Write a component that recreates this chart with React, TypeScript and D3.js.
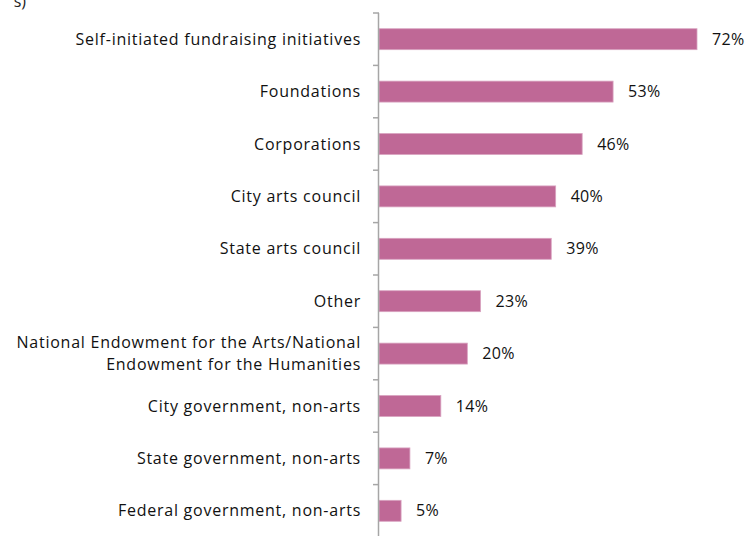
import React from "react";
import * as d3 from "d3";

const categories = [
  "Self-initiated fundraising initiatives",
  "Foundations",
  "Corporations",
  "City arts council",
  "State arts council",
  "Other",
  "National Endowment for the Arts/National|Endowment for the Humanities",
  "City government, non-arts",
  "State government, non-arts",
  "Federal government, non-arts",
];
const values = [72, 53, 46, 40, 39, 23, 20, 14, 7, 5];

const W = 748;
const H = 536;
const FONT = "'Open Sans', Lato, sans-serif";
const FS = 16;
const LS = 0.75;

export default function App() {
  const axisX = 379;
  const x = d3.scaleLinear().domain([0, 72]).range([axisX, 697]);
  const y = d3
    .scaleBand<string>()
    .domain(categories)
    .range([13, 13 + 52.4 * categories.length])
    .paddingInner(0.6)
    .paddingOuter(0.3);
  const step = y.step();
  const ticks = d3.range(categories.length + 1).map((i) => 13 + i * step);

  return (
    <svg
      width={W}
      height={H}
      style={{ position: "absolute", left: 0, top: 0, background: "#fff" }}
    >
      <text x={26} y={7} textAnchor="end" fontFamily={FONT} fontSize={FS} fill="#222">
        s)
      </text>
      {categories.map((c, i) => {
        const yy = y(c)!;
        const bh = y.bandwidth();
        const cy = yy + bh / 2;
        const lines = c.split("|");
        return (
          <g key={c}>
            <rect
              x={axisX}
              y={yy}
              width={x(values[i]) - axisX}
              height={bh}
              fill="#BF6896"
              stroke="#D9A3C0"
              strokeWidth={0.8}
            />
            <text
              x={x(values[i]) + 15}
              y={cy}
              dy="0.35em"
              fontFamily={FONT}
              fontSize={FS}
              letterSpacing={0.3}
              fill="#111"
            >
              {values[i]}%
            </text>
            {lines.map((ln, j) => (
              <text
                key={j}
                x={361}
                y={cy + (j - (lines.length - 1) / 2) * 22}
                dy="0.35em"
                textAnchor="end"
                fontFamily={FONT}
                fontSize={FS}
                letterSpacing={LS}
                fill="#111"
              >
                {ln}
              </text>
            ))}
          </g>
        );
      })}
      <line x1={axisX - 0.5} x2={axisX - 0.5} y1={13} y2={H} stroke="#A6A6A6" strokeWidth={1.5} />
      {ticks.map((t, i) => (
        <line key={i} x1={373} x2={axisX} y1={t} y2={t} stroke="#A6A6A6" strokeWidth={1.5} />
      ))}
    </svg>
  );
}
